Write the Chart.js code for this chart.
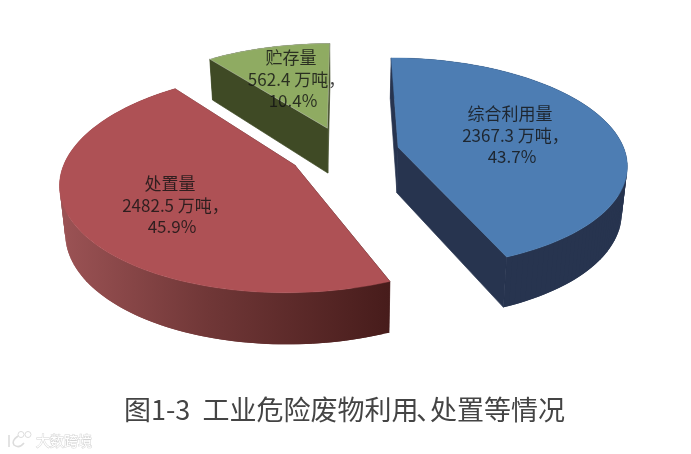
<!DOCTYPE html>
<html><head><meta charset="utf-8">
<script src="https://cdn.jsdelivr.net/npm/chart.js@4"></script>
<style>html,body{margin:0;padding:0;background:#fff}#w{width:691px;height:454px}</style>
</head><body><div id="w"><canvas id="c" width="691" height="454"></canvas></div>
<script>
const categories = ['综合利用量', '处置量', '贮存量'];
const values = [2367.3, 2482.5, 562.4];
const amounts = ['2367.3 万吨，', '2482.5 万吨，', '562.4 万吨，'];
const shares = ['43.7%', '45.9%', '10.4%'];
const titleHead = '图1-3  工业危险废物利用';
const titleMark = '、';
const titleTail = '处置等情况';
const watermark = '大数跨境';

const topColors = ['#4d7db3', '#ae5155', '#8fab62'];
const sideColors = ['#27344f', null, '#3f4a25'];
const explode = [0.24, 0.25, 0.25];
const labelCentres = [[510, 135.5], [170, 205.5], [291, 79.5]];

const view = {cx: 345, cy: 152, sx: 227, sy: 104, k: 0.15, d0: 46, d1: 5, shrink: 0.98};
function top3(u, v) {
  const s = 1 / (1 - view.k * v);
  return [view.cx + view.sx * u * s, view.cy + view.sy * v * s];
}
function low3(u, v) {
  const p = top3(u, v);
  return [view.cx + (p[0] - view.cx) * view.shrink, p[1] + view.d0 + view.d1 * v];
}
function outline(arc, e) {
  const {startAngle: a, endAngle: b} = arc.getProps(['startAngle', 'endAngle'], true);
  const m = (a + b) / 2, ox = e * Math.cos(m), oy = e * Math.sin(m);
  const pts = [[ox, oy]];
  const n = Math.ceil((b - a) * 40);
  for (let i = 0; i <= n; i++) {
    const t = a + (b - a) * i / n;
    pts.push([ox + Math.cos(t), oy + Math.sin(t)]);
  }
  return pts;
}
function path(ctx, pts) {
  ctx.beginPath();
  pts.forEach((p, i) => i ? ctx.lineTo(p[0], p[1]) : ctx.moveTo(p[0], p[1]));
  ctx.closePath();
}
const pie3d = {
  id: 'pie3d',
  beforeDatasetDraw() { return false; },
  afterDatasetsDraw(chart) {
    const ctx = chart.ctx, arcs = chart.getDatasetMeta(0).data;
    ctx.save();
    [2, 1, 0].forEach(i => {
      const pl = outline(arcs[i], explode[i]);
      const T = pl.map(p => top3(p[0], p[1])), L = pl.map(p => low3(p[0], p[1]));
      const last = T.length - 1;
      let side = sideColors[i];
      if (!side) {
        const xs = T.map(p => p[0]);
        side = ctx.createLinearGradient(Math.min(...xs), 0, Math.max(...xs), 0);
        side.addColorStop(0, '#9c5355');
        side.addColorStop(0.45, '#703737');
        side.addColorStop(1, '#471c1b');
      }
      ctx.fillStyle = side;
      for (let j = 1; j < last; j++) {
        const k = Math.min(j + 2, last);
        path(ctx, [T[j], T[k], L[k], L[j]]);
        ctx.fill();
      }
      ctx.strokeStyle = side; ctx.lineWidth = 0.7;
      path(ctx, [T[0], T[1], L[1], L[0]]); ctx.fill(); ctx.stroke();
      path(ctx, [T[0], T[last], L[last], L[0]]); ctx.fill(); ctx.stroke();
      path(ctx, T);
      ctx.fillStyle = topColors[i]; ctx.fill();
      ctx.strokeStyle = i === 2 ? 'rgba(200,200,200,0.5)' : topColors[i];
      ctx.lineWidth = i === 2 ? 0.8 : 0.4; ctx.stroke();
    });
    // slice labels
    ctx.fillStyle = 'rgba(20,20,20,0.82)';
    ctx.textAlign = 'center'; ctx.textBaseline = 'middle';
    ctx.font = '17px "Noto Sans CJK SC"';
    categories.forEach((c, i) => {
      const [x, y] = labelCentres[i];
      ctx.fillText(c, x, y - 21.5);
      ctx.fillText(amounts[i], x + 5.5, y);
      ctx.fillText(shares[i], x + 2, y + 21.5);
    });
    // title
    ctx.fillStyle = '#444';
    ctx.font = '27px "Noto Sans CJK SC"';
    ctx.textAlign = 'left';
    ctx.fillText(titleHead, 124, 410);
    ctx.fillText(titleMark, 416, 410);
    ctx.textAlign = 'right';
    ctx.fillText(titleTail, 565, 410);
    // watermark
    ctx.font = '14px "Noto Sans CJK SC"';
    ctx.textAlign = 'left';
    ctx.lineWidth = 1; ctx.strokeStyle = '#d4d4d4'; ctx.fillStyle = '#fff';
    ctx.strokeText(watermark, 36, 441); ctx.fillText(watermark, 36, 441);
    ctx.lineWidth = 1.6; ctx.strokeStyle = '#dcdcdc';
    ctx.beginPath(); ctx.moveTo(9, 435); ctx.lineTo(9, 447); ctx.stroke();
    ctx.beginPath(); ctx.moveTo(18, 436); ctx.quadraticCurveTo(11, 441, 14, 445);
    ctx.quadraticCurveTo(19, 449, 24, 443); ctx.stroke();
    ctx.lineWidth = 1;
    [[21, 434.5], [28, 434.5]].forEach(p => {
      ctx.beginPath(); ctx.arc(p[0], p[1], 3, 0, Math.PI * 2); ctx.stroke();
    });
    ctx.restore();
  }
};
new Chart(document.getElementById('c'), {
  type: 'pie',
  data: {labels: categories, datasets: [{data: values, backgroundColor: topColors, borderWidth: 0}]},
  options: {
    responsive: false, animation: false, rotation: 0,
    plugins: {legend: {display: false}, tooltip: {enabled: false}, title: {display: false}}
  },
  plugins: [pie3d]
});
</script></body></html>
